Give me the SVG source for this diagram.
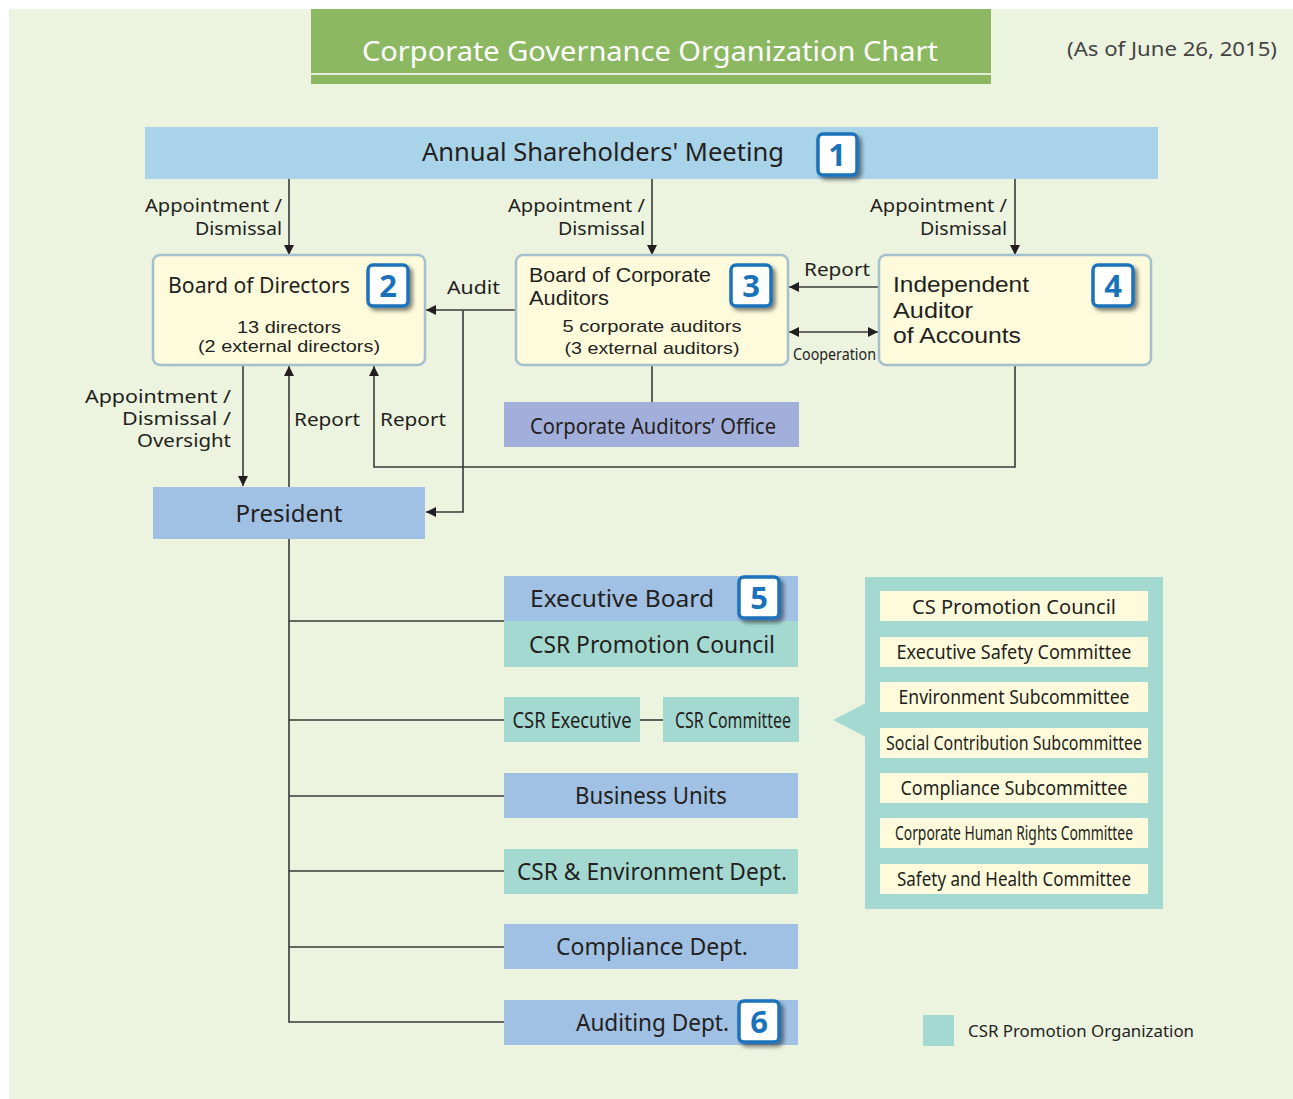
<svg xmlns="http://www.w3.org/2000/svg" width="1293" height="1099" viewBox="0 0 1293 1099">
<defs>
<style>
text{font-family:"Noto Sans","Open Sans","DejaVu Sans",sans-serif;fill:#231f20}
text.lib{font-family:"Liberation Sans",Arial,sans-serif}
.ln{stroke:#3a3a3a;stroke-width:1.6;fill:none}
.yel{fill:#fefbdc;stroke:#a3c0cc;stroke-width:2.5}
.blue{fill:#a1c1e4}
.teal{fill:#a4d9d1}
.inner{fill:#fefbdc}
.lbl{font-size:18px}
.badge{fill:#fff;stroke:#1a73ba;stroke-width:3.5}
.bn{font-size:31px;font-weight:bold;fill:#1a73ba;text-anchor:middle}
.mid{text-anchor:middle}
.end{text-anchor:end}
</style>
<marker id="ah" viewBox="0 0 10 10" refX="10" refY="5" markerWidth="10" markerHeight="10" markerUnits="userSpaceOnUse" orient="auto-start-reverse"><path d="M0,0L10,5L0,10z" fill="#231f20"/></marker>
<filter id="sh" x="-30%" y="-30%" width="170%" height="170%"><feGaussianBlur in="SourceAlpha" stdDeviation="2"/><feOffset dx="3" dy="3"/><feComponentTransfer><feFuncA type="linear" slope="0.5"/></feComponentTransfer><feMerge><feMergeNode/><feMergeNode in="SourceGraphic"/></feMerge></filter>
</defs>
<rect width="1293" height="1099" fill="#fff"/>
<rect x="9" y="9" width="1284" height="1090" fill="#ecf3df"/>

<g id="title">
<rect x="311" y="9" width="680" height="75" fill="#8cb862"/>
<line x1="311" y1="74" x2="991" y2="74" stroke="#fff" stroke-width="1.5"/>
<text x="650" y="61" class="mid" style="fill:#fff;font-size:28px" textLength="576" lengthAdjust="spacingAndGlyphs">Corporate Governance Organization Chart</text>
</g>
<text x="1277" y="56" class="end" style="font-size:19px;fill:#444" textLength="210" lengthAdjust="spacingAndGlyphs">(As of June 26, 2015)</text>

<g id="connectors">
<line class="ln" x1="289" y1="179" x2="289" y2="255" marker-end="url(#ah)"/>
<line class="ln" x1="652" y1="179" x2="652" y2="255" marker-end="url(#ah)"/>
<line class="ln" x1="1015" y1="179" x2="1015" y2="255" marker-end="url(#ah)"/>
<line class="ln" x1="516" y1="310" x2="426" y2="310" marker-end="url(#ah)"/>
<polyline class="ln" points="463,310 463,512 426,512" marker-end="url(#ah)"/>
<line class="ln" x1="879" y1="287" x2="789" y2="287" marker-end="url(#ah)"/>
<line class="ln" x1="789" y1="332" x2="878" y2="332" marker-start="url(#ah)" marker-end="url(#ah)"/>
<line class="ln" x1="652" y1="365" x2="652" y2="402"/>
<polyline class="ln" points="1015,365 1015,467 374,467 374,366" marker-end="url(#ah)"/>
<line class="ln" x1="243" y1="365" x2="243" y2="486" marker-end="url(#ah)"/>
<line class="ln" x1="289" y1="487" x2="289" y2="366" marker-end="url(#ah)"/>
<polyline class="ln" points="289,539 289,1022 504,1022"/>
<line class="ln" x1="289" y1="621" x2="504" y2="621"/>
<line class="ln" x1="289" y1="720" x2="504" y2="720"/>
<line class="ln" x1="640" y1="720" x2="663" y2="720"/>
<line class="ln" x1="289" y1="796" x2="504" y2="796"/>
<line class="ln" x1="289" y1="871" x2="504" y2="871"/>
<line class="ln" x1="289" y1="947" x2="504" y2="947"/>
</g>

<g id="labels">
<text x="282" y="212" class="end lbl" textLength="137" lengthAdjust="spacingAndGlyphs">Appointment /</text>
<text x="282" y="235" class="end lbl" textLength="87" lengthAdjust="spacingAndGlyphs">Dismissal</text>
<text x="645" y="212" class="end lbl" textLength="137" lengthAdjust="spacingAndGlyphs">Appointment /</text>
<text x="645" y="235" class="end lbl" textLength="87" lengthAdjust="spacingAndGlyphs">Dismissal</text>
<text x="1007" y="212" class="end lbl" textLength="137" lengthAdjust="spacingAndGlyphs">Appointment /</text>
<text x="1007" y="235" class="end lbl" textLength="87" lengthAdjust="spacingAndGlyphs">Dismissal</text>
<text x="447" y="294" class="lbl" textLength="53" lengthAdjust="spacingAndGlyphs">Audit</text>
<text x="804" y="276" class="lbl" textLength="66" lengthAdjust="spacingAndGlyphs">Report</text>
<text x="793" y="360" style="font-size:16px" textLength="83" lengthAdjust="spacingAndGlyphs">Cooperation</text>
<text x="231" y="403" class="end lbl" textLength="146" lengthAdjust="spacingAndGlyphs">Appointment /</text>
<text x="231" y="425" class="end lbl" textLength="109" lengthAdjust="spacingAndGlyphs">Dismissal /</text>
<text x="231" y="447" class="end lbl" textLength="94" lengthAdjust="spacingAndGlyphs">Oversight</text>
<text x="294" y="426" class="lbl" textLength="66" lengthAdjust="spacingAndGlyphs">Report</text>
<text x="380" y="426" class="lbl" textLength="66" lengthAdjust="spacingAndGlyphs">Report</text>
</g>

<g id="asm">
<rect x="145" y="127" width="1013" height="52" fill="#a9d3e8"/>
<text x="603" y="161" class="mid" style="font-size:26px" textLength="362" lengthAdjust="spacingAndGlyphs">Annual Shareholders' Meeting</text>
<rect class="badge" x="818" y="134" width="39" height="41" rx="5" filter="url(#sh)"/>
<text x="837" y="166" class="bn">1</text>
</g>

<g id="board-of-directors">
<rect class="yel" x="153" y="255" width="272" height="110" rx="7"/>
<text x="168" y="293" style="font-size:22px" textLength="182" lengthAdjust="spacingAndGlyphs">Board of Directors</text>
<text x="289" y="333" class="mid lib" style="font-size:16px" textLength="104" lengthAdjust="spacingAndGlyphs">13 directors</text>
<text x="289" y="352" class="mid lib" style="font-size:16px" textLength="182" lengthAdjust="spacingAndGlyphs">(2 external directors)</text>
<rect class="badge" x="368" y="265" width="40" height="41" rx="5" filter="url(#sh)"/>
<text x="388" y="297" class="bn">2</text>
</g>

<g id="board-of-corporate-auditors">
<rect class="yel" x="516" y="255" width="272" height="110" rx="7"/>
<text x="529" y="282" class="lib" style="font-size:20px" textLength="182" lengthAdjust="spacingAndGlyphs">Board of Corporate</text>
<text x="529" y="305" class="lib" style="font-size:20px" textLength="80" lengthAdjust="spacingAndGlyphs">Auditors</text>
<text x="652" y="332" class="mid lib" style="font-size:17px" textLength="179" lengthAdjust="spacingAndGlyphs">5 corporate auditors</text>
<text x="652" y="354" class="mid lib" style="font-size:17px" textLength="175" lengthAdjust="spacingAndGlyphs">(3 external auditors)</text>
<rect class="badge" x="731" y="265" width="40" height="41" rx="5" filter="url(#sh)"/>
<text x="751" y="297" class="bn">3</text>
</g>

<g id="independent-auditor">
<rect class="yel" x="879" y="255" width="272" height="110" rx="7"/>
<text x="893" y="292" class="lib" style="font-size:22px" textLength="136" lengthAdjust="spacingAndGlyphs">Independent</text>
<text x="893" y="318" class="lib" style="font-size:22px" textLength="80" lengthAdjust="spacingAndGlyphs">Auditor</text>
<text x="893" y="343" class="lib" style="font-size:22px" textLength="128" lengthAdjust="spacingAndGlyphs">of Accounts</text>
<rect class="badge" x="1093" y="265" width="40" height="41" rx="5" filter="url(#sh)"/>
<text x="1113" y="297" class="bn">4</text>
</g>

<g id="corporate-auditors-office">
<rect x="504" y="402" width="295" height="45" fill="#a3afdb"/>
<text x="530" y="434" style="font-size:22px" textLength="246" lengthAdjust="spacingAndGlyphs">Corporate Auditors’ Office</text>
</g>

<g id="president">
<rect class="blue" x="153" y="487" width="272" height="52"/>
<text x="289" y="522" class="mid" style="font-size:23px" textLength="107" lengthAdjust="spacingAndGlyphs">President</text>
</g>

<g id="executive-board">
<rect class="blue" x="504" y="576" width="294" height="45"/>
<text x="530" y="607" style="font-size:23px" textLength="184" lengthAdjust="spacingAndGlyphs">Executive Board</text>
</g>
<g id="csr-promotion-council">
<rect class="teal" x="504" y="621" width="294" height="46"/>
<text x="652" y="653" class="mid" style="font-size:23px" textLength="246" lengthAdjust="spacingAndGlyphs">CSR Promotion Council</text>
</g>
<g id="badge5">
<rect class="badge" x="739" y="577" width="40" height="41" rx="5" filter="url(#sh)"/>
<text x="759" y="609" class="bn">5</text>
</g>

<g id="csr-executive">
<rect class="teal" x="504" y="697" width="136" height="45"/>
<text x="572" y="728" class="mid" style="font-size:22px" textLength="119" lengthAdjust="spacingAndGlyphs">CSR Executive</text>
</g>
<g id="csr-committee">
<rect class="teal" x="663" y="697" width="136" height="45"/>
<text x="733" y="728" class="mid" style="font-size:22px" textLength="116" lengthAdjust="spacingAndGlyphs">CSR Committee</text>
</g>

<g id="business-units">
<rect class="blue" x="504" y="773" width="294" height="45"/>
<text x="651" y="804" class="mid" style="font-size:23px" textLength="152" lengthAdjust="spacingAndGlyphs">Business Units</text>
</g>
<g id="csr-environment-dept">
<rect class="teal" x="504" y="849" width="294" height="45"/>
<text x="652" y="880" class="mid" style="font-size:23px" textLength="270" lengthAdjust="spacingAndGlyphs">CSR &amp; Environment Dept.</text>
</g>
<g id="compliance-dept">
<rect class="blue" x="504" y="924" width="294" height="45"/>
<text x="652" y="955" class="mid" style="font-size:23px" textLength="192" lengthAdjust="spacingAndGlyphs">Compliance Dept.</text>
</g>
<g id="auditing-dept">
<rect class="blue" x="504" y="1000" width="294" height="45"/>
<text x="576" y="1031" style="font-size:23px" textLength="153" lengthAdjust="spacingAndGlyphs">Auditing Dept.</text>
<rect class="badge" x="739" y="1001" width="40" height="41" rx="5" filter="url(#sh)"/>
<text x="759" y="1033" class="bn">6</text>
</g>

<g id="committee-panel">
<rect class="teal" x="865" y="577" width="298" height="332"/>
<polygon class="teal" points="866,703 833,720 866,737"/>
<rect class="inner" x="880" y="591" width="268" height="30"/>
<text x="1014" y="614" class="mid" style="font-size:20px" textLength="204" lengthAdjust="spacingAndGlyphs">CS Promotion Council</text>
<rect class="inner" x="880" y="637" width="268" height="30"/>
<text x="1014" y="659" class="mid" style="font-size:20px" textLength="235" lengthAdjust="spacingAndGlyphs">Executive Safety Committee</text>
<rect class="inner" x="880" y="682" width="268" height="30"/>
<text x="1014" y="704" class="mid" style="font-size:20px" textLength="231" lengthAdjust="spacingAndGlyphs">Environment Subcommittee</text>
<rect class="inner" x="880" y="728" width="268" height="30"/>
<text x="1014" y="750" class="mid" style="font-size:20px" textLength="256" lengthAdjust="spacingAndGlyphs">Social Contribution Subcommittee</text>
<rect class="inner" x="880" y="773" width="268" height="30"/>
<text x="1014" y="795" class="mid" style="font-size:20px" textLength="227" lengthAdjust="spacingAndGlyphs">Compliance Subcommittee</text>
<rect class="inner" x="880" y="818" width="268" height="30"/>
<text x="1014" y="840" class="mid" style="font-size:20px" textLength="238" lengthAdjust="spacingAndGlyphs">Corporate Human Rights Committee</text>
<rect class="inner" x="880" y="864" width="268" height="30"/>
<text x="1014" y="886" class="mid" style="font-size:20px" textLength="234" lengthAdjust="spacingAndGlyphs">Safety and Health Committee</text>
</g>

<g id="legend">
<rect class="teal" x="923" y="1015" width="31" height="31"/>
<text x="968" y="1037" style="font-size:17px" textLength="226" lengthAdjust="spacingAndGlyphs">CSR Promotion Organization</text>
</g>
</svg>
